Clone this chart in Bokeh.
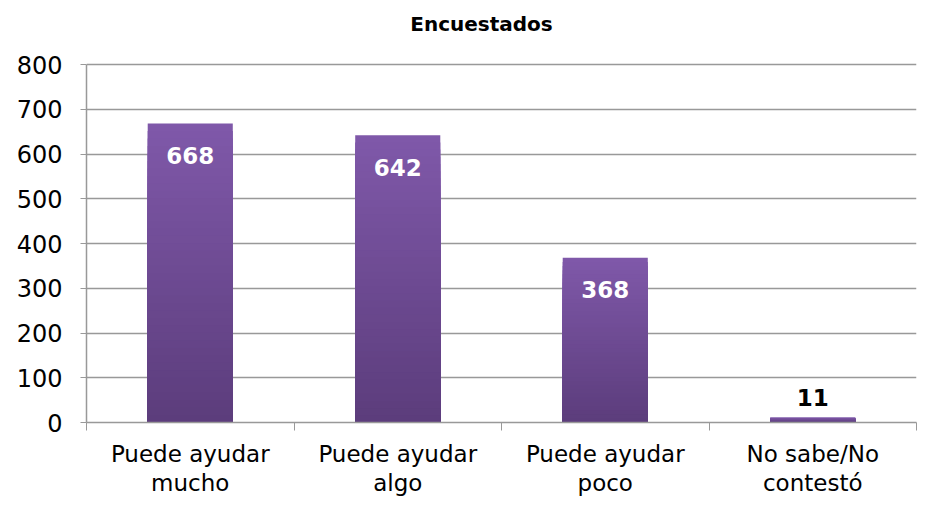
from bokeh.plotting import figure
from bokeh.models import Range1d, FixedTicker, ColumnDataSource
from bokeh.core.properties import value
from bokeh.embed import file_html
from bokeh.resources import INLINE

categories = ["Puede ayudar\nmucho", "Puede ayudar\nalgo", "Puede ayudar\npoco", "No sabe/No\ncontestó"]
counts = [668, 642, 368, 11]
y_ticks = [0, 100, 200, 300, 400, 500, 600, 700, 800]
title_text = "Encuestados"

FONT = "DejaVu Sans"
bottom_rgb = (0x5C, 0x3D, 0x7C)
top_rgb = (0x80, 0x59, 0xAA)
Y_MAX = 800          # top of the value axis
Y_VIEW = 932         # extra head-room in the frame that holds the chart title

p = figure(width=920, height=499, output_backend="svg", toolbar_location=None,
           x_range=Range1d(0, len(categories)), y_range=Range1d(0, Y_VIEW),
           min_border_left=86, min_border_right=4, min_border_top=5, min_border_bottom=70)
p.outline_line_color = None
p.background_fill_color = "white"
p.border_fill_color = "white"

# gradient bars: overlapping layers from 0 up to a fraction of each value
N = 40
xs, tops, cols = [], [], []
for k in reversed(range(N)):
    t = (k + 0.5) / N
    r = int(bottom_rgb[0] + (top_rgb[0] - bottom_rgb[0]) * t)
    g = int(bottom_rgb[1] + (top_rgb[1] - bottom_rgb[1]) * t)
    b = int(bottom_rgb[2] + (top_rgb[2] - bottom_rgb[2]) * t)
    for i, v in enumerate(counts):
        xs.append(i + 0.5)
        tops.append(v * (k + 1) / N)
        cols.append("#%02x%02x%02x" % (r, g, b))
src = ColumnDataSource(dict(x=xs, top=tops, color=cols))
p.vbar(x="x", bottom=0, top="top", width=0.41, source=src,
       fill_color="color", line_color=None)

# data labels
xc = [i + 0.5 for i in range(len(counts))]
inside = [v > 100 for v in counts]
s_in = ColumnDataSource(dict(x=[x for x, f in zip(xc, inside) if f],
                             y=[v for v, f in zip(counts, inside) if f],
                             t=[str(v) for v, f in zip(counts, inside) if f]))
s_out = ColumnDataSource(dict(x=[x for x, f in zip(xc, inside) if not f],
                              y=[v for v, f in zip(counts, inside) if not f],
                              t=[str(v) for v, f in zip(counts, inside) if not f]))
p.text(x="x", y="y", text="t", source=s_in, text_color="white", text_font=value(FONT),
       text_font_size="23px", text_font_style="bold", text_align="center",
       text_baseline="middle", y_offset=32)
p.text(x="x", y="y", text="t", source=s_out, text_color="black", text_font=value(FONT),
       text_font_size="23px", text_font_style="bold", text_align="center",
       text_baseline="middle", y_offset=-20)

# chart title, at the top of the frame
p.text(x=[len(categories) / 2], y=[Y_VIEW], text=[title_text], text_color="black",
       text_font=value(FONT), text_font_size="20px", text_font_style="bold",
       text_align="center", text_baseline="middle", x_offset=-20, y_offset=18)

# axes
p.xaxis.ticker = FixedTicker(ticks=xc, minor_ticks=list(range(len(categories) + 1)))
p.xaxis.major_label_overrides = {x: c for x, c in zip(xc, categories)}
p.xaxis.major_tick_line_color = None
p.xaxis.major_tick_out = 0
p.xaxis.major_tick_in = 0
p.xaxis.minor_tick_line_color = "#999999"
p.xaxis.minor_tick_out = 8
p.xaxis.minor_tick_in = 0
p.xaxis.axis_line_color = "#999999"
p.xaxis.axis_line_width = 1.5
p.xaxis.major_label_text_font = FONT
p.xaxis.major_label_text_font_size = "23px"
p.xaxis.major_label_text_color = "black"
p.xaxis.major_label_standoff = 10
p.xaxis.major_label_text_line_height = 1.15

p.yaxis.ticker = FixedTicker(ticks=y_ticks)
p.yaxis.bounds = (0, Y_MAX)
p.yaxis.major_tick_line_color = "#999999"
p.yaxis.major_tick_out = 6
p.yaxis.major_tick_in = 0
p.yaxis.minor_tick_line_color = None
p.yaxis.axis_line_color = "#999999"
p.yaxis.axis_line_width = 1.5
p.yaxis.major_label_text_font = FONT
p.yaxis.major_label_text_font_size = "24px"
p.yaxis.major_label_text_color = "black"
p.yaxis.major_label_standoff = 18

p.xgrid.grid_line_color = None
p.ygrid.grid_line_color = "#999999"
p.ygrid.grid_line_width = 1.5
p.ygrid.level = "underlay"

open("out.html", "w").write(file_html(p, INLINE))
